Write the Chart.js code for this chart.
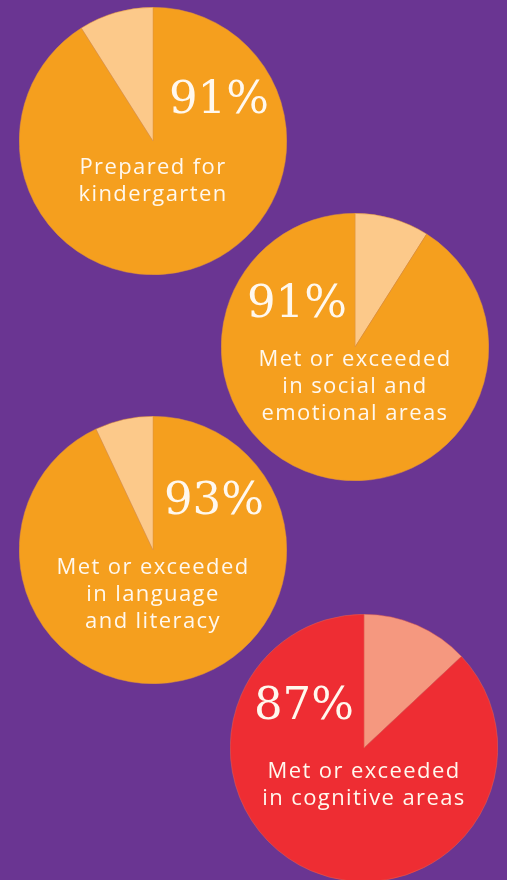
<!DOCTYPE html>
<html>
<head>
<meta charset="utf-8">
<script src="https://cdn.jsdelivr.net/npm/chart.js@4.4.0/dist/chart.umd.min.js"></script>
<style>
  html, body { margin: 0; padding: 0; }
  body { width: 507px; height: 880px; background: #6A3592; position: relative; overflow: hidden; }
  .pie { position: absolute; width: 268px; height: 268px; }
</style>
</head>
<body>
<div class="pie" style="left:19px;top:7px"><canvas id="pie0"></canvas></div>
<div class="pie" style="left:221px;top:213px"><canvas id="pie1"></canvas></div>
<div class="pie" style="left:19px;top:416px"><canvas id="pie2"></canvas></div>
<div class="pie" style="left:230px;top:614px"><canvas id="pie3"></canvas></div>
<script>
// ====== ДАННЫЕ ======
const captions = [
    ['Prepared for', 'kindergarten'],
    ['Met or exceeded', 'in social and', 'emotional areas'],
    ['Met or exceeded', 'in language', 'and literacy'],
    ['Met or exceeded', 'in cognitive areas']
];
const metValues = [91, 91, 93, 87];
const restValues = [9, 9, 7, 13];
// =====================

// оформление каждого круга: цвета, сдвиги текста от центра
const looks = [
    { main: '#F59F1E', light: '#FCC98A', line: '#E0953A', restFirst: false, pct: [66, -40], cap: 27 },
    { main: '#F59F1E', light: '#FCC98A', line: '#E0953A', restFirst: true,  pct: [-58, -42], cap: 13 },
    { main: '#F59F1E', light: '#FCC98A', line: '#E0953A', restFirst: false, pct: [61, -48], cap: 18 },
    { main: '#EE2D33', light: '#F5987F', line: '#E06555', restFirst: true,  pct: [-60, -41], cap: 24 }
];

const textPlugin = {
    id: 'pieText',
    afterDraw(chart) {
        const i = chart.options.plugins.pieText.index;
        const look = looks[i];
        const ctx = chart.ctx;
        const area = chart.chartArea;
        const cx = (area.left + area.right) / 2;
        const cy = (area.top + area.bottom) / 2;
        ctx.save();
        ctx.fillStyle = '#FFF8EE';
        ctx.textAlign = 'center';
        ctx.textBaseline = 'middle';
        ctx.font = '45px "DejaVu Serif"';
        ctx.fillText(metValues[i] + '%', cx + look.pct[0], cy + look.pct[1]);
        ctx.font = '22px "Open Sans"';
        ctx.letterSpacing = '1.4px';
        captions[i].forEach((line, k) => {
            ctx.fillText(line, cx, cy + look.cap + k * 27);
        });
        ctx.restore();
    }
};

function renderPie(i) {
    const look = looks[i];
    const data = look.restFirst ? [restValues[i], metValues[i]] : [metValues[i], restValues[i]];
    const colors = look.restFirst ? [look.light, look.main] : [look.main, look.light];
    new Chart(document.getElementById('pie' + i), {
        type: 'pie',
        data: {
            labels: look.restFirst ? ['other', 'met'] : ['met', 'other'],
            datasets: [{
                data: data,
                backgroundColor: colors,
                borderColor: look.line,
                borderWidth: 0.5
            }]
        },
        options: {
            responsive: true,
            maintainAspectRatio: false,
            animation: false,
            layout: { padding: 0 },
            plugins: {
                legend: { display: false },
                tooltip: { enabled: false },
                pieText: { index: i }
            }
        },
        plugins: [textPlugin]
    });
}

captions.forEach((c, i) => renderPie(i));
</script>
</body>
</html>
